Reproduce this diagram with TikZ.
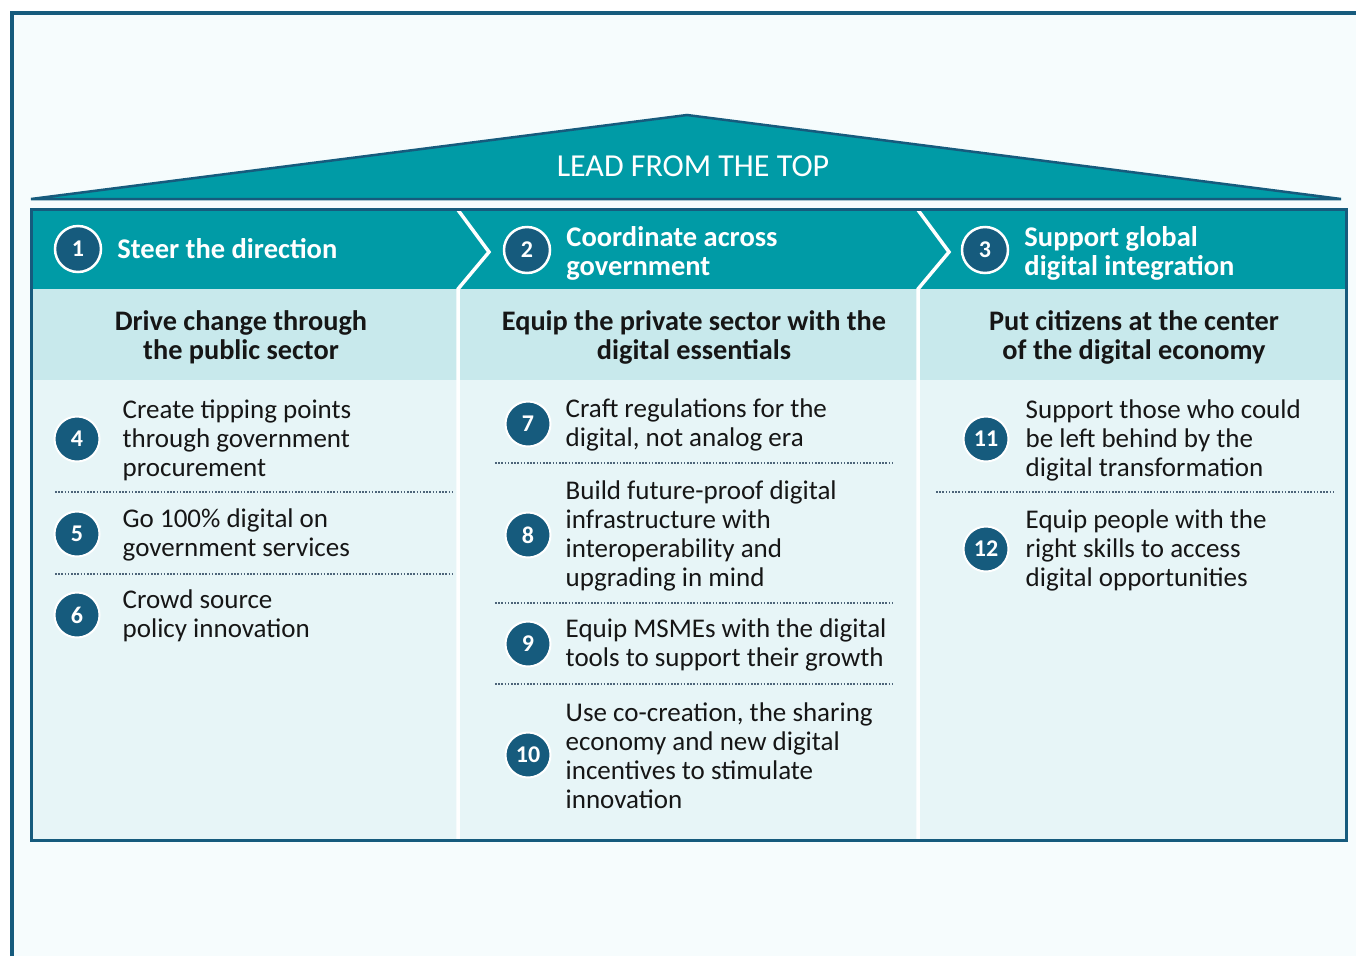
\documentclass[tikz,border=0pt]{standalone}
\usepackage{fontspec}
\setmainfont{Carlito}
\usepackage{tikz}
\usetikzlibrary{positioning}
\definecolor{roofteal}{HTML}{009BA6}
\definecolor{deepblue}{HTML}{165B7D}
\definecolor{paleteal}{HTML}{C8E9EC}
\definecolor{mistteal}{HTML}{E7F5F7}
\definecolor{bgblue}{HTML}{F6FCFD}
\definecolor{dotgray}{HTML}{4D6479}
\definecolor{inkblack}{HTML}{161616}
\tikzset{num/.style={circle,draw=white,line width=2pt,fill=deepblue,minimum
size=45pt,inner sep=0pt,text=white,font=\bfseries\fontsize{24}{24}\selectfont},
hnum/.style={num,line width=2.5pt,minimum size=46pt},
itemtext/.style={align=left,inner sep=0pt,text=inkblack,font=\fontsize{27}{29}\selectfont},
headtext/.style={align=left,inner sep=0pt,text=white,font=\bfseries\fontsize{28.5}{29}\selectfont},
subtext/.style={align=center,inner sep=0pt,text=inkblack,font=\bfseries\fontsize{28.3}{29}\selectfont},
rooftext/.style={inner sep=0pt,text=white,font=\fontsize{32}{32}\selectfont},
dotsep/.style={draw=dotgray,line width=1.6pt,dash pattern=on 1.6pt off 1.6pt}}

\begin{document}
\begin{tikzpicture}[x=1pt,y=-1pt]
	\useasboundingbox (0,0) rectangle (1356,956);
	% page and frame
	\fill[white] (0,0) rectangle (1356,956);
	\fill[bgblue] (12,13) rectangle (1356,956);
	\draw[deepblue,line width=4pt] (12,956) -- (12,13) -- (1356,13);
	% roof
	\filldraw[fill=roofteal,draw=deepblue,line width=2.5pt] (31,199) -- (687,115) -- (1341,199) -- cycle;
	\node[rooftext] (roof) at (693,166) {LEAD FROM THE TOP};
	% bands of the house
	\fill[mistteal] (31,380) rectangle (1346,840);
	\fill[paleteal] (31,289) rectangle (1346,380);
	\fill[roofteal] (31,209) rectangle (1346,289);
	\foreach \x in {458,918} {
		\draw[white,line width=3.5pt] (\x,210) -- (\x+31,252) -- (\x,289) -- (\x,839);
	}
	\draw[deepblue,line width=3pt] (31,209) rectangle (1346,840);

	% pillars
	\node[hnum] (h1) at (78,249) {1};
	\node[headtext,right=15pt of h1] (ht1) {Steer the direction};
	\node[hnum] (h2) at (527,250) {2};
	\node[headtext,right=15pt of h2,yshift=-3pt] (ht2) {Coordinate across\\government};
	\node[hnum] (h3) at (985,250) {3};
	\node[headtext,right=15pt of h3,yshift=-3pt] (ht3) {Support global\\digital integration};

	\node[subtext] (s1) at (241,337) {Drive change through\\the public sector};
	\node[subtext] (s2) at (694,337) {Equip the private sector with the\\digital essentials};
	\node[subtext] (s3) at (1134,337) {Put citizens at the center\\of the digital economy};

	% public sector
	\node[num] (n4) at (77,439) {4};
	\node[itemtext,right=22pt of n4,yshift=-1pt] (t4) {Create tipping points\\through government\\procurement};
	\draw[dotsep] (55,492) -- (452,492);
	\node[num] (n5) at (77,534) {5};
	\node[itemtext,right=22pt of n5,yshift=-1pt] (t5) {Go 100\% digital on\\government services};
	\draw[dotsep] (55,574) -- (452,574);
	\node[num] (n6) at (77,615) {6};
	\node[itemtext,right=22pt of n6,yshift=-1pt] (t6) {Crowd source\\policy innovation};

	% private sector
	\node[num] (n7) at (528,424) {7};
	\node[itemtext,right=14pt of n7,yshift=-1pt] (t7) {Craft regulations for the\\digital, not analog era};
	\draw[dotsep] (495,463) -- (892,463);
	\node[num] (n8) at (528,535) {8};
	\node[itemtext,right=14pt of n8,yshift=-1pt] (t8) {Build future-proof digital\\infrastructure with\\interoperability and\\upgrading in mind};
	\draw[dotsep] (495,603) -- (892,603);
	\node[num] (n9) at (528,644) {9};
	\node[itemtext,right=14pt of n9,yshift=-1pt] (t9) {Equip MSMEs with the digital\\tools to support their growth};
	\draw[dotsep] (495,684) -- (892,684);
	\node[num] (n10) at (528,755) {10};
	\node[itemtext,right=14pt of n10,yshift=-1pt] (t10) {Use co-creation, the sharing\\economy and new digital\\incentives to stimulate\\innovation};

	% citizens
	\node[num] (n11) at (986,439) {11};
	\node[itemtext,right=16pt of n11,yshift=-1pt] (t11) {Support those who could\\be left behind by the\\digital transformation};
	\draw[dotsep] (936,492) -- (1333,492);
	\node[num] (n12) at (986,549) {12};
	\node[itemtext,right=16pt of n12,yshift=-1pt] (t12) {Equip people with the\\right skills to access\\digital opportunities};
\end{tikzpicture}
\end{document}
